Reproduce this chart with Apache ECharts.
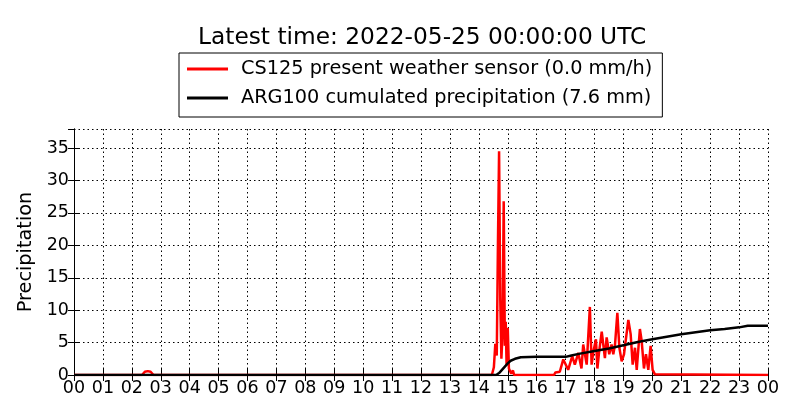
<!DOCTYPE html>
<html>
<head>
<meta charset="utf-8">
<script src="https://cdn.jsdelivr.net/npm/echarts@6/dist/echarts.min.js"></script>
<style>
  html, body { margin: 0; padding: 0; background: #fff; }
  #chart { width: 800px; height: 420px; }
</style>
</head>
<body>
<div id="chart"></div>
<script>
// hours since 00 UTC
const titleText = 'Latest time: 2022-05-25 00:00:00 UTC';
const redName = 'CS125 present weather sensor (0.0 mm/h)';
const blackName = 'ARG100 cumulated precipitation (7.6 mm)';

const cs125 = [
  [0, 0], [2.35, 0], [2.45, 0.5], [2.55, 0.6], [2.65, 0.5], [2.75, 0],
  [14.45, 0], [14.52, 1.2], [14.57, 4.8], [14.62, 3.0], [14.66, 20], [14.7, 34.5],
  [14.74, 12], [14.78, 2.5], [14.82, 6.5], [14.86, 26.8], [14.9, 4.5], [14.93, 8.2],
  [14.96, 1.5], [15.0, 7.3], [15.04, 1.0], [15.08, 1.2], [15.12, 0.2], [15.18, 0.7],
  [15.22, 0], [16.6, 0], [16.65, 0.4], [16.8, 0.5], [16.92, 2.4], [17.09, 0.8],
  [17.23, 2.9], [17.32, 1.6], [17.44, 3.4], [17.55, 1.0], [17.61, 4.7], [17.73, 1.6],
  [17.84, 10.5], [17.9, 1.6], [17.96, 3.6], [18.05, 5.5], [18.1, 1.0], [18.16, 3.6],
  [18.25, 6.7], [18.3, 6.5], [18.36, 2.6], [18.42, 5.8], [18.51, 3.2], [18.59, 4.7],
  [18.65, 3.2], [18.71, 4.7], [18.79, 9.6], [18.86, 4.2], [18.94, 2.1], [19.02, 3.2],
  [19.17, 8.5], [19.25, 6.3], [19.32, 1.6], [19.4, 4.2], [19.46, 0.8], [19.57, 7.1],
  [19.63, 5.3], [19.71, 1.0], [19.78, 3.2], [19.86, 0.8], [19.94, 4.5], [20.01, 0.8],
  [20.09, 0.1], [20.15, 0], [24, 0]
];

const arg100 = [
  [0, 0], [14.6, 0], [14.7, 0.3], [14.8, 0.8], [14.9, 1.3], [15.0, 1.8], [15.1, 2.2],
  [15.25, 2.5], [15.45, 2.75], [16.0, 2.8], [17.0, 2.8], [17.2, 3.0], [17.5, 3.3],
  [18.0, 3.7], [18.5, 4.1], [19.0, 4.6], [19.5, 5.1], [20.0, 5.5], [20.5, 5.9],
  [21.0, 6.3], [21.5, 6.6], [22.0, 6.9], [22.5, 7.1], [23.0, 7.35], [23.3, 7.6], [24, 7.6]
];

const font = 'DejaVu Sans';
const hourLabel = v => String(Math.round(v) % 24).padStart(2, '0');
const dotted = { color: '#000', type: [1.5, 3], width: 1 };
const tick = { inside: true, length: 6, lineStyle: { color: '#000' } };

const chart = echarts.init(document.getElementById('chart'));
chart.setOption({
  animation: false,
  backgroundColor: '#fff',
  title: {
    text: titleText, left: 193, top: 21,
    textStyle: { fontFamily: font, fontSize: 23.3, fontWeight: 'normal', color: '#000' }
  },
  legend: {
    orient: 'vertical', left: 179, top: 53,
    padding: [5, 10, 8, 8], itemGap: 7,
    borderColor: '#000', borderWidth: 1, borderRadius: 0,
    itemWidth: 41, itemHeight: 3, icon: 'rect',
    textStyle: { fontFamily: font, fontSize: 19.3, color: '#000', lineHeight: 22, padding: [0, 0, 0, 8] },
    data: [redName, blackName]
  },
  grid: { left: 74, right: 32, top: 129, bottom: 45 },
  xAxis: [{
    type: 'value', min: 0, max: 24, interval: 1,
    axisLine: { lineStyle: { color: '#000', width: 1 } },
    axisTick: tick,
    axisLabel: { fontFamily: font, fontSize: 17.5, color: '#000', margin: 4, formatter: hourLabel },
    splitLine: { show: true, lineStyle: dotted }
  }, {
    type: 'value', min: 0, max: 24, interval: 1, position: 'top',
    axisLine: { lineStyle: { color: '#000', width: 1 } },
    axisTick: tick,
    axisLabel: { show: false }, splitLine: { show: false }
  }],
  yAxis: [{
    type: 'value', min: 0, max: 37.95, interval: 5,
    name: 'Precipitation', nameLocation: 'middle', nameGap: 24, nameRotate: 90,
    nameTextStyle: { fontFamily: font, fontSize: 19.3, color: '#000' },
    axisLine: { show: true, lineStyle: { color: '#000', width: 1 } },
    axisTick: Object.assign({ show: true }, tick),
    axisLabel: { fontFamily: font, fontSize: 17.5, color: '#000', margin: 5, showMaxLabel: false },
    splitLine: { show: true, lineStyle: dotted }
  }, {
    type: 'value', min: 0, max: 37.95, interval: 5, position: 'right',
    axisLine: { show: true, lineStyle: { color: '#000', width: 1 } },
    axisTick: Object.assign({ show: true }, tick),
    axisLabel: { show: false }, splitLine: { show: false }
  }],
  series: [{
    name: redName, type: 'line', data: cs125, showSymbol: false, symbol: 'none',
    lineStyle: { color: '#ff0000', width: 2.5 }, itemStyle: { color: '#ff0000' }
  }, {
    name: blackName, type: 'line', data: arg100, showSymbol: false, symbol: 'none',
    lineStyle: { color: '#000', width: 2.5 }, itemStyle: { color: '#000' }
  }]
});
</script>
</body>
</html>
